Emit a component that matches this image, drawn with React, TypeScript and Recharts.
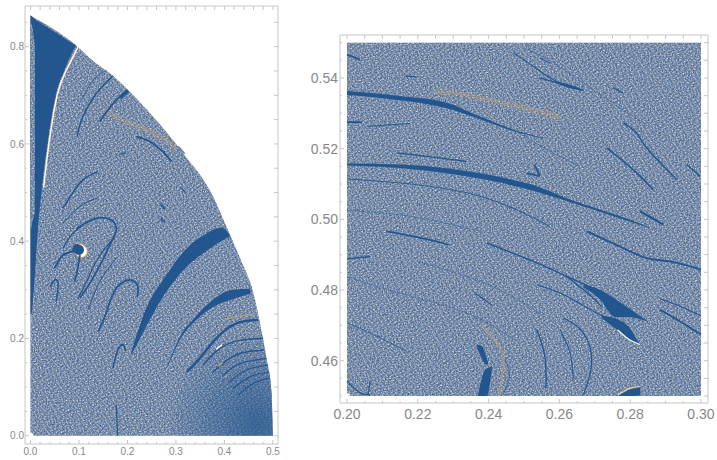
import { Area, ComposedChart, Line, XAxis, YAxis } from "recharts";

type Band = [number, number, number];
type Pt = [number, number];

const BLUE = "#23568f";
const ORANGE = "#d9a662";
const FRAME = "#c6c6c6";
const LABEL = "#888888";

// ---- axis ticks ----
const leftXTicks = [0, 0.02, 0.04, 0.06, 0.08, 0.1, 0.12, 0.14, 0.16, 0.18, 0.2, 0.22, 0.24, 0.26, 0.28, 0.3, 0.32, 0.34, 0.36, 0.38, 0.4, 0.42, 0.44, 0.46, 0.48, 0.5];
const leftXLabels = [0, 0.1, 0.2, 0.3, 0.4, 0.5];
const leftYTicks = [0, 0.05, 0.1, 0.15, 0.2, 0.25, 0.3, 0.35, 0.4, 0.45, 0.5, 0.55, 0.6, 0.65, 0.7, 0.75, 0.8, 0.85];
const leftYLabels = [0, 0.2, 0.4, 0.6, 0.8];
const rightXTicks = [0.2, 0.205, 0.21, 0.215, 0.22, 0.225, 0.23, 0.235, 0.24, 0.245, 0.25, 0.255, 0.26, 0.265, 0.27, 0.275, 0.28, 0.285, 0.29, 0.295, 0.3];
const rightXLabels = [0.2, 0.22, 0.24, 0.26, 0.28, 0.3];
const rightYTicks = [0.45, 0.455, 0.46, 0.465, 0.47, 0.475, 0.48, 0.485, 0.49, 0.495, 0.5, 0.505, 0.51, 0.515, 0.52, 0.525, 0.53, 0.535, 0.54, 0.545, 0.55];
const rightYLabels = [0.46, 0.48, 0.5, 0.52, 0.54];

// ---- left panel, [x, low, high] ----
const envelope: Band[] = [[0, 0, 0.864], [0.0934, 0, 0.803], [0.13, 0, 0.77], [0.17, 0, 0.74], [0.201, 0, 0.711], [0.253, 0, 0.656], [0.3147, 0, 0.581], [0.377, 0, 0.4915], [0.404, 0, 0.43], [0.435, 0, 0.358], [0.459, 0, 0.296], [0.4728, 0, 0.234], [0.4866, 0, 0.159], [0.497, 0, 0.09], [0.5, 0, 0]];
const wedge: Band[] = [[0, 0.25, 0.864], [0.002, 0.25, 0.863], [0.0068, 0.3, 0.858], [0.0157, 0.43, 0.852], [0.0226, 0.5, 0.847], [0.035, 0.6, 0.84], [0.052, 0.7, 0.829], [0.0693, 0.75, 0.818], [0.0934, 0.803, 0.803]];
const sliver: Band[] = [[0, 0.42, 0.85], [0.004, 0.44, 0.84], [0.009, 0.46, 0.8]];
const bigArc: Band[] = [[0.208, 0.166, 0.173], [0.239, 0.225, 0.262], [0.28, 0.296, 0.33], [0.322, 0.347, 0.385], [0.363, 0.38, 0.416], [0.395, 0.401, 0.428], [0.411, 0.409, 0.412]];
const secondArc: Band[] = [[0.2837, 0.143, 0.147], [0.308, 0.197, 0.203], [0.342, 0.238, 0.246], [0.377, 0.265, 0.28], [0.418, 0.281, 0.3], [0.4535, 0.292, 0.302]];
const cornerGlow: Band[] = [[0.26, 0, 0.1], [0.34, 0, 0.16], [0.4, 0, 0.2], [0.45, 0, 0.24], [0.4728, 0, 0.234], [0.4866, 0, 0.159], [0.497, 0, 0.09], [0.5, 0, 0]];

const wedgeEdge: Pt[] = [[0.098, 0.799], [0.073, 0.75], [0.055, 0.7], [0.038, 0.6], [0.027, 0.51]];
const streakA: Pt[] = [[0.17, 0.74], [0.136, 0.704], [0.108, 0.656], [0.096, 0.615]];
const streakB: Pt[] = [[0.157, 0.752], [0.129, 0.731], [0.105, 0.69]];
const streakC: Pt[] = [[0.201, 0.711], [0.177, 0.69], [0.157, 0.666], [0.143, 0.646]];
const streakCTip: Pt[] = [[0.201, 0.709], [0.185, 0.695]];
const streakD: Pt[] = [[0.2186, 0.615], [0.246, 0.605], [0.273, 0.584], [0.291, 0.564]];
const streakE: Pt[] = [[0.139, 0.543], [0.108, 0.526], [0.0845, 0.495], [0.067, 0.468]];
const streakF: Pt[] = [[0.136, 0.488], [0.1016, 0.471], [0.067, 0.437]];
const archA: Pt[] = [[0.095, 0.426], [0.136, 0.447], [0.17, 0.441], [0.177, 0.424], [0.174, 0.413], [0.157, 0.378], [0.129, 0.324], [0.102, 0.283]];
const blobLeft: Pt[] = [[0.098, 0.382], [0.067, 0.371], [0.05, 0.344]];
const blobTail: Pt[] = [[0.102, 0.372], [0.0975, 0.344], [0.091, 0.317]];
const blobCore: Pt[] = [[0.097, 0.384], [0.1, 0.382]];
const blobHalo: Pt[] = [[0.101, 0.383], [0.105, 0.379]];
const archSmall: Pt[] = [[0.04, 0.306], [0.05, 0.32], [0.057, 0.313], [0.0536, 0.276]];
const stripeA: Pt[] = [[0.067, 0.385], [0.0845, 0.413], [0.105, 0.43]];
const stripeB: Pt[] = [[0.098, 0.282], [0.119, 0.324], [0.14, 0.366], [0.174, 0.41]];
const stripeC: Pt[] = [[0.119, 0.259], [0.143, 0.317], [0.177, 0.365]];
const archB: Pt[] = [[0.14, 0.214], [0.157, 0.255], [0.177, 0.303], [0.208, 0.32], [0.222, 0.303], [0.22, 0.286]];
const archC: Pt[] = [[0.17, 0.139], [0.18, 0.176], [0.191, 0.187], [0.196, 0.174]];
const stem: Pt[] = [[0.177, 0.064], [0.18, 0]];
const arc3: Pt[] = [[0.322, 0.131], [0.349, 0.159], [0.383, 0.2], [0.4247, 0.231], [0.4695, 0.238]];
const arc4: Pt[] = [[0.356, 0.145], [0.39, 0.179], [0.4315, 0.196], [0.4797, 0.2]];
const arc5: Pt[] = [[0.377, 0.131], [0.411, 0.159], [0.445, 0.172], [0.482, 0.176]];
const arc6: Pt[] = [[0.3972, 0.124], [0.4315, 0.148], [0.4865, 0.159]];
const arc7: Pt[] = [[0.411, 0.111], [0.445, 0.135], [0.49, 0.145]];
const arc8: Pt[] = [[0.418, 0.097], [0.4525, 0.121], [0.492, 0.131]];
const arc9: Pt[] = [[0.4283, 0.083], [0.459, 0.107], [0.4935, 0.119]];
const glowLeftA: Pt[] = [[0.15, 0.67], [0.2, 0.645], [0.26, 0.62], [0.3, 0.59]];
const glowLeftB: Pt[] = [[0.4, 0.24], [0.43, 0.245], [0.46, 0.25]];
const sparkA: Pt[] = [[0.383, 0.178], [0.395, 0.187]];
const sparkB: Pt[] = [[0.388, 0.143], [0.396, 0.15]];
const sparkC: Pt[] = [[0.4, 0.12], [0.405, 0.124]];
const spotA: Pt[] = [[0.183, 0.578], [0.197, 0.582]];
const spotB: Pt[] = [[0.268, 0.476], [0.278, 0.466]];
const spotC: Pt[] = [[0.268, 0.446], [0.278, 0.44]];
const spotD: Pt[] = [[0.31, 0.51], [0.32, 0.5]];
const spotE: Pt[] = [[0.305, 0.595], [0.318, 0.58]];

// ---- right panel, [x, low, high] ----
const fullSquare: Band[] = [[0.2, 0.45, 0.55], [0.3, 0.45, 0.55]];
const bandTop: Band[] = [[0.2, 0.5352, 0.5363], [0.215, 0.5337, 0.5349], [0.2282, 0.5314, 0.533], [0.2376, 0.5283, 0.5291], [0.2479, 0.5247, 0.5251], [0.2555, 0.5229, 0.5231]];
const bandMain: Band[] = [[0.2, 0.5152, 0.5158], [0.215, 0.5145, 0.5155], [0.2291, 0.5129, 0.5143], [0.2432, 0.5104, 0.512], [0.2526, 0.5081, 0.5097], [0.262, 0.5052, 0.506], [0.2762, 0.5006, 0.5012], [0.2856, 0.4975, 0.4977]];
const topBlob: Band[] = [[0.2592, 0.5385, 0.539], [0.2625, 0.5372, 0.5382], [0.2668, 0.5365, 0.5366]];
const lobeUpper: Band[] = [[0.2668, 0.4808, 0.4815], [0.2715, 0.4773, 0.4801], [0.2757, 0.4724, 0.4775], [0.2795, 0.4724, 0.4749], [0.2853, 0.4709, 0.4709]];
const lobeLower: Band[] = [[0.2719, 0.4721, 0.4727], [0.2762, 0.4688, 0.4718], [0.2795, 0.4661, 0.4697], [0.2826, 0.4648, 0.4648]];
const podUpper: Band[] = [[0.2366, 0.4641, 0.4645], [0.238, 0.4608, 0.4642], [0.239, 0.4591, 0.4622], [0.2399, 0.4589, 0.4593]];
const podLower: Band[] = [[0.2369, 0.45, 0.4501], [0.238, 0.45, 0.4546], [0.239, 0.45, 0.4575], [0.2395, 0.45, 0.4578], [0.241, 0.4582, 0.4584]];
const cornerPod: Band[] = [[0.2762, 0.45, 0.4501], [0.2795, 0.45, 0.4518], [0.2815, 0.45, 0.4522], [0.2828, 0.4502, 0.4525]];

const dashA: Pt[] = [[0.2, 0.5466], [0.2037, 0.5452]];
const dashB: Pt[] = [[0.2, 0.5275], [0.2041, 0.5275]];
const dashC: Pt[] = [[0.2056, 0.5263], [0.2178, 0.5271]];
const dashD: Pt[] = [[0.2164, 0.5405], [0.2197, 0.5403]];
const topUpper: Pt[] = [[0.247, 0.5471], [0.2526, 0.5433], [0.2592, 0.539], [0.2668, 0.5365]];
const topLower: Pt[] = [[0.2545, 0.54], [0.2611, 0.5381], [0.2668, 0.5365]];
const topShort: Pt[] = [[0.2545, 0.5457], [0.2573, 0.5442]];
const dashE: Pt[] = [[0.2752, 0.5372], [0.278, 0.5358]];
const dashF: Pt[] = [[0.214, 0.5188], [0.2244, 0.5176], [0.2338, 0.5164]];
const longThin: Pt[] = [[0.2, 0.5114], [0.215, 0.5103], [0.2338, 0.5075], [0.2479, 0.5027], [0.2573, 0.498]];
const fadedTail: Pt[] = [[0.2395, 0.4933], [0.2526, 0.4881], [0.262, 0.4839], [0.2715, 0.4796]];
const starA: Pt[] = [[0.2529, 0.5155], [0.2545, 0.5124]];
const starB: Pt[] = [[0.2508, 0.513], [0.2545, 0.5122]];
const rightA: Pt[] = [[0.2781, 0.5273], [0.2818, 0.5244], [0.2847, 0.5202], [0.2913, 0.5131], [0.2931, 0.5112]];
const rightB: Pt[] = [[0.2734, 0.5202], [0.2809, 0.514], [0.2865, 0.5084]];
const rightC: Pt[] = [[0.2828, 0.5023], [0.2894, 0.4985]];
const rightD: Pt[] = [[0.296, 0.5155], [0.2997, 0.5122]];
const midWave: Pt[] = [[0.2112, 0.4966], [0.2225, 0.4944], [0.2287, 0.4928]];
const leftFlick: Pt[] = [[0.2, 0.4888], [0.2065, 0.4895]];
const topRightBand: Pt[] = [[0.2677, 0.4966], [0.2771, 0.4923], [0.2847, 0.489], [0.2912, 0.4881], [0.3, 0.4858]];
const loopLower: Pt[] = [[0.262, 0.4839], [0.2686, 0.4786], [0.2719, 0.4753]];
const underLobe: Pt[] = [[0.2536, 0.4815], [0.2611, 0.4787], [0.2696, 0.474], [0.2738, 0.4721]];
const farRight: Pt[] = [[0.3, 0.4674], [0.2941, 0.4711], [0.2884, 0.4744]];
const curveA: Pt[] = [[0.2536, 0.4688], [0.2559, 0.4612], [0.2562, 0.4523]];
const curveB: Pt[] = [[0.2611, 0.4721], [0.2668, 0.4678], [0.2691, 0.4593], [0.2668, 0.4504]];
const curveC: Pt[] = [[0.2602, 0.4688], [0.263, 0.4622], [0.2639, 0.4546]];
const curveD: Pt[] = [[0.2446, 0.4605], [0.2459, 0.4558], [0.2441, 0.4504]];
const lowLeft: Pt[] = [[0.2, 0.4707], [0.2074, 0.4674], [0.2169, 0.4626]];
const cornerA: Pt[] = [[0.2, 0.4542], [0.2037, 0.4509], [0.2065, 0.4504]];
const cornerB: Pt[] = [[0.2065, 0.4542], [0.206, 0.4504]];
const shortWave: Pt[] = [[0.2362, 0.4791], [0.2409, 0.4758]];
const farThin: Pt[] = [[0.2884, 0.4775], [0.2945, 0.4752], [0.3, 0.4727]];
const faintA: Pt[] = [[0.2, 0.4838], [0.215, 0.4791], [0.2338, 0.4735], [0.2479, 0.4655]];
const faintB: Pt[] = [[0.22, 0.488], [0.24, 0.4815], [0.255, 0.473]];
const faintC: Pt[] = [[0.2479, 0.525], [0.2555, 0.5203], [0.2655, 0.5152]];
const faintD: Pt[] = [[0.2, 0.5025], [0.218, 0.5008], [0.238, 0.4965]];
const faintE: Pt[] = [[0.2505, 0.5483], [0.258, 0.5445], [0.272, 0.535], [0.285, 0.5265]];
const glowRightA: Pt[] = [[0.2244, 0.5362], [0.2357, 0.5348], [0.2602, 0.529]];
const glowRightB: Pt[] = [[0.238, 0.4702], [0.2432, 0.464], [0.2441, 0.4593], [0.2432, 0.4504]];
const rimLower: Pt[] = [[0.2765, 0.4687], [0.2797, 0.466], [0.2827, 0.4646]];
const rimCorner: Pt[] = [[0.2765, 0.4502], [0.2797, 0.4521], [0.2829, 0.4527]];

// ---- speckle texture tile ----
const TILE = [
  "acbdbaocbwcabdcbaocdbacbwbcao",
  "bdacbcaadbocabwcbdabcoabdcbad",
  "cabwocbdacbbdacaoacbwcdbacdbc",
  "oabcdacbwabdcoabcbdacabcobadw",
  "bcdabbocacdwbacdabobcdwacbcab",
  "awcbacdbaobcabcwdacbbaodcbacd",
  "dbaocbwacdbabocbacdbwcabdoacb",
  "cbdabcacobdcawbdcabacbdacbwca",
  "abocdwbabcacdbaocbwadcbabcodb",
  "wcabbacdoabcbdcabaocdbawcbacd",
  "bacdcbowabdcabdwcbacbaodbcabo",
  "cdbabacbdcaocbabcdwabcdbaocwb",
  "oacwdbcabbdacwoabcbdacbcadbac",
  "bdcabocadcbwabacdbobacwdabcoa",
  "acbdwabcbocadbcacbaodcbabwdcb",
  "cbaocdbawcbadbocdwbacbcadoabc",
  "dabcbacdobabcwacbdabocbwacdba",
  "bwcadbcabdcobadcabcdwabacobdc",
  "aocbabdwacbcabobdcaoacbdbacwb",
  "cbdacobcabdwacdbacbwcdabocabd",
  "bacwbdacoabcbdacobabdacbcwadc",
  "dcabcabdbwcaocbdwacbabodcabcb",
  "abodcbacdabcbacabdocbwadbcoab",
];
const SPECK: Record<string, string> = {
  a: "#2c5a92",
  b: "#4d6fa3",
  c: "#8a97ad",
  d: "#d2d8e2",
  w: "#ffffff",
  o: "#c8a571",
};

// same tile three times at unrelated angles, stacked, so the repeat does not read as a weave
function Speckle({ id }: { id: string }) {
  const cells = TILE.map((row, r) =>
    row.split("").map((ch, c) => (
      <rect key={`${r}-${c}`} x={c} y={r} width={1} height={1} fill={SPECK[ch]} />
    ))
  );
  return (
    <defs>
      <pattern id={`${id}0`} width={29} height={23} patternUnits="userSpaceOnUse" patternTransform="rotate(17)">
        {cells}
      </pattern>
      <pattern id={`${id}1`} width={29} height={23} patternUnits="userSpaceOnUse" patternTransform="rotate(71)">
        {cells}
      </pattern>
      <pattern id={`${id}2`} width={29} height={23} patternUnits="userSpaceOnUse" patternTransform="rotate(-38)">
        {cells}
      </pattern>
      <radialGradient id={`${id}Glow`} cx="0.86" cy="0.9" r="0.8">
        <stop offset="0%" stopColor={BLUE} stopOpacity={0.75} />
        <stop offset="45%" stopColor={BLUE} stopOpacity={0.42} />
        <stop offset="100%" stopColor={BLUE} stopOpacity={0} />
      </radialGradient>
    </defs>
  );
}

const band = (key: string, rows: Band[], fill: string, opacity = 1) => (
  <Area
    key={key}
    data={rows.map(([x, lo, hi]) => ({ x, y: [lo, hi] }))}
    dataKey="y"
    type="monotone"
    stroke="none"
    fill={fill}
    fillOpacity={opacity}
    dot={false}
    activeDot={false}
    isAnimationActive={false}
  />
);

const speckled = (id: string, name: string, rows: Band[]) => [
  band(`${name}-0`, rows, `url(#${id}0)`),
  band(`${name}-1`, rows, `url(#${id}1)`, 0.28),
  band(`${name}-2`, rows, `url(#${id}2)`, 0.16),
];

const streak = (key: string, rows: Pt[], width: number, color = BLUE, opacity = 1) => (
  <Line
    key={key}
    data={rows.map(([x, y]) => ({ x, y }))}
    dataKey="y"
    type="natural"
    stroke={color}
    strokeWidth={width}
    strokeOpacity={opacity}
    strokeLinecap={width >= 10 ? "round" : "butt"}
    dot={false}
    activeDot={false}
    isAnimationActive={false}
  />
);

// Mathematica-style frame: ticks point inward, only some carry a label
function frameTick(side: "bottom" | "top" | "left" | "right", labels: number[], digits: number, fontSize: number, gap: number) {
  return (props: any) => {
    const { x, y, payload } = props;
    const major = labels.some((v) => Math.abs(v - payload.value) < 1e-6);
    const len = major || labels.length === 0 ? 4 : 2;
    const dx = side === "left" ? len : side === "right" ? -len : 0;
    const dy = side === "bottom" ? -len : side === "top" ? len : 0;
    return (
      <g>
        <line x1={x} y1={y} x2={x + dx} y2={y + dy} stroke={FRAME} strokeWidth={1} />
        {major && side === "bottom" && (
          <text x={x} y={y + gap} textAnchor="middle" fontSize={fontSize} fill={LABEL} fontFamily="Liberation Sans">
            {payload.value.toFixed(digits)}
          </text>
        )}
        {major && side === "left" && (
          <text x={x - gap} y={y + fontSize * 0.36} textAnchor="end" fontSize={fontSize} fill={LABEL} fontFamily="Liberation Sans">
            {payload.value.toFixed(digits)}
          </text>
        )}
      </g>
    );
  };
}

function frameAxes(
  xDomain: number[],
  yDomain: number[],
  xTicks: number[],
  yTicks: number[],
  xLabels: number[],
  yLabels: number[],
  digits: [number, number],
  fontSize: number,
  axisSize: [number, number],
  gaps: [number, number]
) {
  const shared = { type: "number" as const, interval: 0 as const, allowDataOverflow: true, tickLine: false, tickSize: 0, tickMargin: 0, axisLine: { stroke: FRAME } };
  return [
    <XAxis key="xb" dataKey="x" {...shared} domain={xDomain} ticks={xTicks} height={axisSize[1]} tick={frameTick("bottom", xLabels, digits[0], fontSize, gaps[1])} />,
    <XAxis key="xt" xAxisId="top" orientation="top" dataKey="x" {...shared} domain={xDomain} ticks={xTicks} height={1} tick={frameTick("top", [], 0, fontSize, 0)} />,
    <YAxis key="yl" {...shared} domain={yDomain} ticks={yTicks} width={axisSize[0]} tick={frameTick("left", yLabels, digits[1], fontSize, gaps[0])} />,
    <YAxis key="yr" yAxisId="right" orientation="right" {...shared} domain={yDomain} ticks={yTicks} width={1} tick={frameTick("right", [], 0, fontSize, 0)} />,
    // top and right axes only draw when a series is bound to them
    <Line key="frameAnchor" xAxisId="top" yAxisId="right" data={[{ x: xTicks[0], y: yTicks[0] }]} dataKey="y" stroke="none" dot={false} activeDot={false} isAnimationActive={false} />,
  ];
}

function LeftPanel() {
  return (
    <ComposedChart width={290} height={460} margin={{ top: 5, right: 11, bottom: 0, left: 0 }}>
      <Speckle id="speckLeft" />
      {frameAxes([-0.0113, 0.5105], [-0.0171, 0.8836], leftXTicks, leftYTicks, leftXLabels, leftYLabels, [1, 1], 10, [25, 16], [1, 11])}
      {speckled("speckLeft", "envelope", envelope)}
      {band("cornerGlow", cornerGlow, "url(#speckLeftGlow)")}
      {band("wedge", wedge, BLUE)}
      {speckled("speckLeft", "sliver", sliver)}
      {band("bigArc", bigArc, BLUE)}
      {band("secondArc", secondArc, BLUE)}
      {streak("wedgeEdgeO", wedgeEdge, 2, ORANGE, 0.6)}
      {streak("wedgeEdge", wedgeEdge, 1.3, "#ffffff")}
      {streak("glowLeftA", glowLeftA, 5, ORANGE, 0.25)}
      {streak("glowLeftB", glowLeftB, 1.5, ORANGE, 0.5)}
      {streak("streakA", streakA, 1.5)}
      {streak("streakB", streakB, 1, BLUE, 0.8)}
      {streak("streakC", streakC, 1.8)}
      {streak("streakCTip", streakCTip, 3.6)}
      {streak("streakD", streakD, 1.8)}
      {streak("streakE", streakE, 1.5)}
      {streak("streakF", streakF, 1)}
      {streak("archA", archA, 1.7)}
      {streak("blobHaloO", blobHalo, 13, ORANGE)}
      {streak("blobHalo", blobHalo, 11, "#ffffff")}
      {streak("blobCore", blobCore, 10)}
      {streak("blobLeft", blobLeft, 2)}
      {streak("blobTail", blobTail, 1.8)}
      {streak("archSmall", archSmall, 1.5)}
      {streak("stripeA", stripeA, 1.2)}
      {streak("stripeB", stripeB, 1.2)}
      {streak("stripeC", stripeC, 1)}
      {streak("archB", archB, 1.8)}
      {streak("archC", archC, 1.5)}
      {streak("stem", stem, 1.2)}
      {streak("arc3", arc3, 2.4)}
      {streak("arc4", arc4, 1.4)}
      {streak("arc5", arc5, 1.4)}
      {streak("arc6", arc6, 1.4)}
      {streak("arc7", arc7, 1.2)}
      {streak("arc8", arc8, 1.2)}
      {streak("arc9", arc9, 1.2)}
      {streak("sparkA", sparkA, 1.5, "#fff6e4")}
      {streak("sparkB", sparkB, 1.3, ORANGE)}
      {streak("sparkC", sparkC, 1.3, ORANGE)}
      {streak("spotA", spotA, 2, BLUE, 0.7)}
      {streak("spotB", spotB, 2.4, BLUE, 0.8)}
      {streak("spotC", spotC, 2.4, BLUE, 0.8)}
      {streak("spotD", spotD, 1.6, BLUE, 0.7)}
      {streak("spotE", spotE, 1.4, BLUE, 0.8)}
    </ComposedChart>
  );
}

function RightPanel() {
  return (
    <ComposedChart width={417} height={460} margin={{ top: 34, right: 8, bottom: 0, left: 0 }}>
      <Speckle id="speckRight" />
      {frameAxes([0.19802, 0.30198], [0.44803, 0.55216], rightXTicks, rightYTicks, rightXLabels, rightYLabels, [2, 2], 14, [40, 57], [2, 16])}
      {speckled("speckRight", "square", fullSquare)}
      {band("bandTop", bandTop, BLUE)}
      {band("bandMain", bandMain, BLUE)}
      {band("topBlob", topBlob, BLUE)}
      {band("lobeUpper", lobeUpper, BLUE)}
      {band("lobeLower", lobeLower, BLUE)}
      {band("podUpper", podUpper, BLUE)}
      {band("podLower", podLower, BLUE)}
      {band("cornerPod", cornerPod, BLUE)}
      {streak("glowRightA", glowRightA, 5, ORANGE, 0.25)}
      {streak("glowRightB", glowRightB, 2.4, ORANGE, 0.4)}
      {streak("faintA", faintA, 1, BLUE, 0.45)}
      {streak("faintB", faintB, 1, BLUE, 0.45)}
      {streak("faintC", faintC, 1, BLUE, 0.45)}
      {streak("faintD", faintD, 1, BLUE, 0.45)}
      {streak("faintE", faintE, 1, BLUE, 0.45)}
      {streak("dashA", dashA, 1.8)}
      {streak("dashB", dashB, 1.8)}
      {streak("dashC", dashC, 1)}
      {streak("dashD", dashD, 1.2)}
      {streak("topUpper", topUpper, 1.1)}
      {streak("topLower", topLower, 1.3)}
      {streak("topShort", topShort, 1)}
      {streak("dashE", dashE, 1.4)}
      {streak("dashF", dashF, 1.4)}
      {streak("longThin", longThin, 1.1, BLUE, 0.85)}
      {streak("fadedTail", fadedTail, 1.4)}
      {streak("starA", starA, 1.8)}
      {streak("starB", starB, 1.8)}
      {streak("rightA", rightA, 1.4)}
      {streak("rightB", rightB, 1.6)}
      {streak("rightC", rightC, 2.2)}
      {streak("rightD", rightD, 1.4)}
      {streak("midWave", midWave, 1.6)}
      {streak("leftFlick", leftFlick, 1.4)}
      {streak("topRightBand", topRightBand, 1.8)}
      {streak("loopLower", loopLower, 1.4)}
      {streak("underLobe", underLobe, 1.1)}
      {streak("farRight", farRight, 1.8)}
      {streak("curveA", curveA, 1.4)}
      {streak("curveB", curveB, 1.2)}
      {streak("curveC", curveC, 1.1)}
      {streak("curveD", curveD, 1, BLUE, 0.7)}
      {streak("lowLeft", lowLeft, 1, BLUE, 0.8)}
      {streak("cornerA", cornerA, 1.2)}
      {streak("cornerB", cornerB, 1.1)}
      {streak("shortWave", shortWave, 1.1)}
      {streak("farThin", farThin, 1.1)}
      {streak("rimLower", rimLower, 1.2, "#fff6e4")}
      {streak("rimCorner", rimCorner, 1.2, "#f3cf95")}
    </ComposedChart>
  );
}

export default function App() {
  return (
    <div style={{ position: "absolute", left: 0, top: 0, width: 717, height: 460, overflow: "hidden", background: "#fff" }}>
      <div style={{ position: "absolute", left: 0, top: 0 }}>
        <LeftPanel />
      </div>
      <div style={{ position: "absolute", left: 300, top: 0 }}>
        <RightPanel />
      </div>
    </div>
  );
}
